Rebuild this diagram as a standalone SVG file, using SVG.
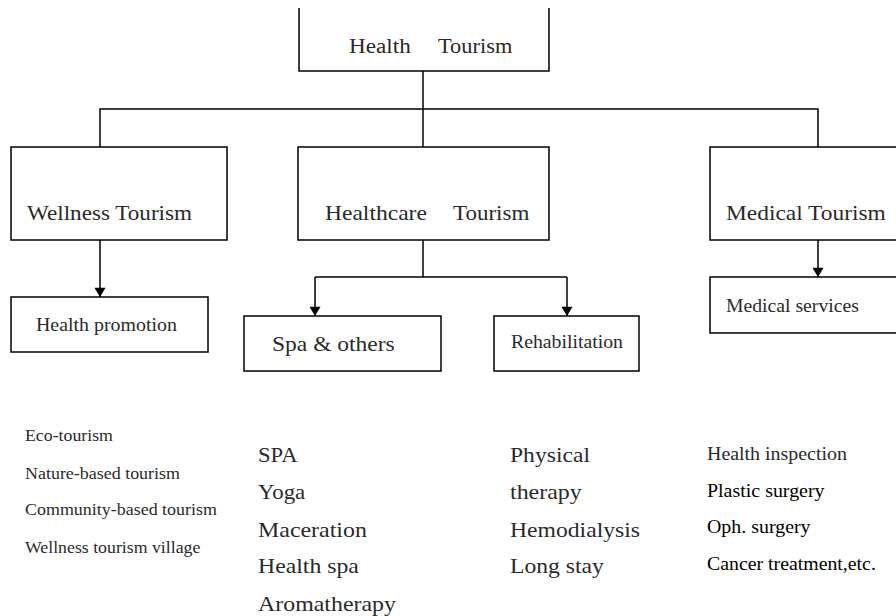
<svg xmlns="http://www.w3.org/2000/svg" width="896" height="616" viewBox="0 0 896 616">
<style>
.box{fill:#fff;stroke:#000;stroke-width:1.5}
.ln{fill:none;stroke:#000;stroke-width:1.5}
</style>
<defs>
<marker id="ah" viewBox="0 0 10 12" refX="10" refY="6" markerWidth="12" markerHeight="11" markerUnits="userSpaceOnUse" orient="auto">
<path d="M0,0 L10,6 L0,12 z" fill="#000"/>
</marker>
</defs>
<rect width="896" height="616" fill="#fff"/>
<g id="connectors">
<line class="ln" x1="423" y1="71" x2="423" y2="147"/>
<polyline class="ln" points="100,147 100,109 818,109 818,147"/>
<line class="ln" x1="100" y1="240" x2="100" y2="297" marker-end="url(#ah)"/>
<line class="ln" x1="423" y1="240" x2="423" y2="277"/>
<line class="ln" x1="315" y1="277" x2="567" y2="277"/>
<line class="ln" x1="315" y1="277" x2="315" y2="316" marker-end="url(#ah)"/>
<line class="ln" x1="567" y1="277" x2="567" y2="316" marker-end="url(#ah)"/>
<line class="ln" x1="818" y1="240" x2="818" y2="277" marker-end="url(#ah)"/>
</g>
<g id="health-tourism">
<path class="box" d="M299,8 V71 H549 V8"/>
<text font-family="Liberation Serif" fill="#2a2a2a" font-size="20" transform="translate(349 53) scale(1.16 1)">Health</text>
<text font-family="Liberation Serif" fill="#2a2a2a" font-size="20" transform="translate(438 53) scale(1.12 1)">Tourism</text>
</g>
<g id="wellness-tourism">
<rect class="box" x="11" y="147" width="216" height="93"/>
<text font-family="Liberation Serif" fill="#2a2a2a" font-size="22" transform="translate(27 220) scale(1.052 1)">Wellness Tourism</text>
</g>
<g id="healthcare-tourism">
<rect class="box" x="298" y="147" width="251" height="93"/>
<text font-family="Liberation Serif" fill="#2a2a2a" font-size="22" transform="translate(325 220) scale(1.07 1)">Healthcare</text>
<text font-family="Liberation Serif" fill="#2a2a2a" font-size="22" transform="translate(453 220) scale(1.046 1)">Tourism</text>
</g>
<g id="medical-tourism">
<rect class="box" x="710" y="147" width="200" height="93"/>
<text font-family="Liberation Serif" fill="#2a2a2a" font-size="22" transform="translate(726 220) scale(1.064 1)">Medical Tourism</text>
</g>
<g id="health-promotion">
<rect class="box" x="11" y="297" width="197" height="55"/>
<text font-family="Liberation Serif" fill="#2a2a2a" font-size="18" transform="translate(36 331) scale(1.106 1)">Health promotion</text>
</g>
<g id="spa-others">
<rect class="box" x="244" y="316" width="197" height="55"/>
<text font-family="Liberation Serif" fill="#2a2a2a" font-size="21" transform="translate(272 351) scale(1.12 1)">Spa &amp; others</text>
</g>
<g id="rehabilitation">
<rect class="box" x="494" y="316" width="145" height="55"/>
<text font-family="Liberation Serif" fill="#2a2a2a" font-size="18" transform="translate(511 348) scale(1.098 1)">Rehabilitation</text>
</g>
<g id="medical-services">
<rect class="box" x="710" y="277" width="200" height="56"/>
<text font-family="Liberation Serif" fill="#2a2a2a" font-size="18" transform="translate(726 312) scale(1.095 1)">Medical services</text>
</g>
<g id="wellness-list">
<text font-family="Liberation Serif" fill="#2a2a2a" font-size="16" transform="translate(25 441) scale(1.112 1)">Eco-tourism</text>
<text font-family="Liberation Serif" fill="#2a2a2a" font-size="16" transform="translate(25 479) scale(1.122 1)">Nature-based tourism</text>
<text font-family="Liberation Serif" fill="#2a2a2a" font-size="16" transform="translate(25 515) scale(1.122 1)">Community-based tourism</text>
<text font-family="Liberation Serif" fill="#2a2a2a" font-size="16" transform="translate(25 553) scale(1.112 1)">Wellness tourism village</text>
</g>
<g id="spa-list">
<text font-family="Liberation Serif" fill="#2a2a2a" font-size="21" transform="translate(258 462) scale(1.08 1)">SPA</text>
<text font-family="Liberation Serif" fill="#2a2a2a" font-size="21" transform="translate(258 499) scale(1.09 1)">Yoga</text>
<text font-family="Liberation Serif" fill="#2a2a2a" font-size="21" transform="translate(258 537) scale(1.14 1)">Maceration</text>
<text font-family="Liberation Serif" fill="#2a2a2a" font-size="21" transform="translate(258 573) scale(1.132 1)">Health spa</text>
<text font-family="Liberation Serif" fill="#2a2a2a" font-size="21" transform="translate(258 611) scale(1.138 1)">Aromatherapy</text>
</g>
<g id="rehab-list">
<text font-family="Liberation Serif" fill="#2a2a2a" font-size="21" transform="translate(510 462) scale(1.124 1)">Physical</text>
<text font-family="Liberation Serif" fill="#2a2a2a" font-size="21" transform="translate(510 499) scale(1.14 1)">therapy</text>
<text font-family="Liberation Serif" fill="#2a2a2a" font-size="21" transform="translate(510 537) scale(1.126 1)">Hemodialysis</text>
<text font-family="Liberation Serif" fill="#2a2a2a" font-size="21" transform="translate(510 573) scale(1.127 1)">Long stay</text>
</g>
<g id="medical-list">
<text font-family="Liberation Serif" fill="#2a2a2a" font-size="18" transform="translate(707 460) scale(1.107 1)">Health inspection</text>
<text font-family="Liberation Serif" fill="#000" font-size="18" transform="translate(707 497) scale(1.108 1)">Plastic surgery</text>
<text font-family="Liberation Serif" fill="#000" font-size="18" transform="translate(707 533) scale(1.106 1)">Oph. surgery</text>
<text font-family="Liberation Serif" fill="#000" font-size="18" transform="translate(707 570) scale(1.101 1)">Cancer treatment,etc.</text>
</g>
</svg>
